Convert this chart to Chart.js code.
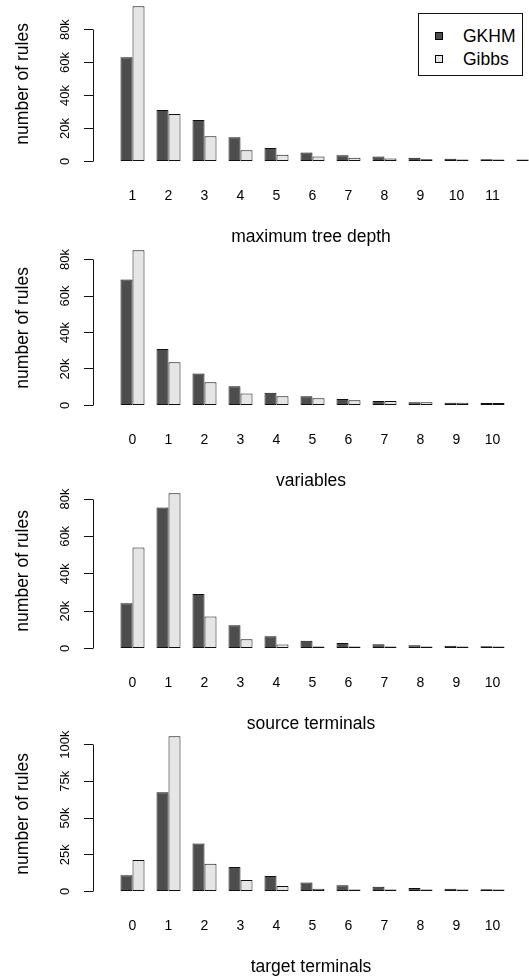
<!DOCTYPE html>
<html>
<head>
<meta charset="utf-8">
<script src="https://cdn.jsdelivr.net/npm/chart.js@4.4.1/dist/chart.umd.min.js"></script>
<style>
  html, body { margin: 0; padding: 0; background: #fff; }
  body { width: 529px; height: 976px; overflow: hidden; position: relative; }
  canvas.panel { position: absolute; left: 0; }
  #legend { position: absolute; left: 418px; top: 13px; width: 105px; height: 63px;
            border: 1px solid #111; box-sizing: border-box; background: #fff; z-index: 5;
            font-family: 'Liberation Sans', Arial, sans-serif; font-size: 17.5px; color: #000; }
  #legend .sw { position: absolute; left: 16px; width: 8px; height: 8px; border: 1px solid #000; box-sizing: border-box; }
  #legend .tx { position: absolute; left: 44px; height: 20px; line-height: 20px; white-space: nowrap; }
</style>
</head>
<body>
<canvas id="p1" class="panel" width="529" height="248" style="top:0px"></canvas>
<canvas id="p2" class="panel" width="529" height="248" style="top:244px"></canvas>
<canvas id="p3" class="panel" width="529" height="248" style="top:487px"></canvas>
<canvas id="p4" class="panel" width="529" height="248" style="top:730px"></canvas>
<div id="legend"></div>
<script>
// ---------------- data ----------------
const seriesNames = ['GKHM', 'Gibbs'];
const seriesColors = ['#4d4d4d', '#e5e5e5'];

const depthCats   = [1, 2, 3, 4, 5, 6, 7, 8, 9, 10, 11, 12];
const depthXTicks = [1, 2, 3, 4, 5, 6, 7, 8, 9, 10, 11];
const depthGKHM   = [63200, 31200, 25200, 14700, 8200, 5500, 3800, 3000, 2200, 1600, 1400, 1000];
const depthGibbs  = [94200, 28800, 15300, 6800, 4100, 3000, 2200, 1800, 1400, 1200, 1000, 700];
const depthYTicks = [0, 20000, 40000, 60000, 80000];

const varCats   = [0, 1, 2, 3, 4, 5, 6, 7, 8, 9, 10];
const varXTicks = [0, 1, 2, 3, 4, 5, 6, 7, 8, 9, 10];
const varGKHM   = [69000, 31000, 17600, 10600, 7000, 5100, 3500, 2400, 1800, 1500, 1300];
const varGibbs  = [85100, 23700, 12700, 6600, 5100, 4000, 2900, 2400, 1800, 1500, 1300];
const varYTicks = [0, 20000, 40000, 60000, 80000];

const srcCats   = [0, 1, 2, 3, 4, 5, 6, 7, 8, 9, 10];
const srcXTicks = [0, 1, 2, 3, 4, 5, 6, 7, 8, 9, 10];
const srcGKHM   = [24200, 75400, 29200, 12500, 6600, 4100, 2900, 2300, 1800, 1400, 1200];
const srcGibbs  = [54000, 83100, 17100, 5000, 2100, 1100, 500, 350, 200, 150, 100];
const srcYTicks = [0, 20000, 40000, 60000, 80000];

const tgtCats   = [0, 1, 2, 3, 4, 5, 6, 7, 8, 9, 10];
const tgtXTicks = [0, 1, 2, 3, 4, 5, 6, 7, 8, 9, 10];
const tgtGKHM   = [11100, 67600, 32600, 16700, 10600, 6100, 4300, 3200, 2300, 1800, 1600];
const tgtGibbs  = [21500, 105700, 18800, 7900, 3800, 1800, 1100, 700, 500, 300, 250];
const tgtYTicks = [0, 25000, 50000, 75000, 100000];

const yTitle = 'number of rules';

// ---------------- layout ----------------
const FONT = "'Liberation Sans', Arial, Helvetica, sans-serif";
const AXIS_X = 93;          // y axis position (px)
const PITCH = 36;           // px per category
const FIRST_OFFSET = 39.5;  // px from y axis to first group centre
const CANVAS_W = 529;
const XAXIS_H = 80.3;
const TICK_LEN = 9;
const YLABEL_CENTER = 65.5;
const YTICK_FONT = 13;

function fmtK(v) { return v === 0 ? '0' : (v / 1000) + 'k'; }

const measureCtx = document.createElement('canvas').getContext('2d');
function widest(labels, size) {
  measureCtx.font = `${size}px ${FONT}`;
  return Math.max(...labels.map(l => measureCtx.measureText(l).width));
}

const yAxisLine = {
  id: 'yAxisLine',
  afterDraw(chart) {
    const s = chart.scales.y, ctx = chart.ctx;
    const t = s.ticks;
    const y0 = Math.round(s.getPixelForValue(t[0].value) - 0.5) + 0.5;
    const y1 = Math.round(s.getPixelForValue(t[t.length - 1].value) - 0.5) + 0.5;
    const x = Math.round(s.right - 0.5) + 0.5;
    ctx.save();
    ctx.strokeStyle = '#111';
    ctx.lineWidth = 1;
    ctx.beginPath();
    ctx.moveTo(x, y0);
    ctx.lineTo(x, y1);
    ctx.stroke();
    ctx.restore();
  }
};

function makePanel(id, cats, gk, gb, xTicks, yTicks, xTitle) {
  const hi = Math.max(...gk, ...gb);
  const xMin = cats[0] - FIRST_OFFSET / PITCH;
  const xMax = xMin + (CANVAS_W - AXIS_X) / PITCH;
  const w = widest(yTicks.map(fmtK), YTICK_FONT);
  const yPad = AXIS_X - TICK_LEN - YLABEL_CENTER - w / 2;
  const series = [gk, gb];
  new Chart(document.getElementById(id), {
    type: 'bar',
    data: {
      datasets: series.map((vals, k) => ({
        label: seriesNames[k],
        data: cats.map((c, i) => ({ x: c, y: vals[i] })),
        backgroundColor: seriesColors[k],
        borderColor: '#111',
        borderWidth: 1,
        borderSkipped: false,
        minBarLength: 2,
        categoryPercentage: 2 / 3,
        barPercentage: 1
      }))
    },
    options: {
      responsive: false,
      animation: false,
      devicePixelRatio: 1,
      layout: { padding: 0 },
      plugins: { legend: { display: false }, tooltip: { enabled: false } },
      scales: {
        x: {
          type: 'linear',
          offset: false,
          min: xMin,
          max: xMax,
          afterBuildTicks: s => { s.ticks = xTicks.map(v => ({ value: v })); },
          afterFit: s => { s.height = XAXIS_H; s.paddingLeft = 0; s.paddingRight = 0; },
          grid: { display: false, drawTicks: false },
          border: { display: false },
          ticks: { autoSkip: false, maxRotation: 0, padding: 20.5, color: '#000',
                   font: { family: FONT, size: 14 } },
          title: { display: true, text: xTitle, color: '#000',
                   font: { family: FONT, size: 17.5 }, padding: { top: 0, bottom: 0.75 } }
        },
        y: {
          type: 'linear',
          min: -0.04 * hi,
          max: 1.04 * hi,
          afterBuildTicks: s => { s.ticks = yTicks.map(v => ({ value: v })); },
          afterFit: s => { s.width = AXIS_X; s.paddingTop = 0; s.paddingBottom = 0; },
          grid: { drawOnChartArea: false, drawTicks: true, tickLength: TICK_LEN, color: '#111', lineWidth: 1 },
          border: { display: false },
          ticks: { autoSkip: false, minRotation: 90, maxRotation: 90, crossAlign: 'center',
                   padding: yPad, color: '#000', font: { family: FONT, size: YTICK_FONT },
                   callback: v => fmtK(v) },
          title: { display: true, text: yTitle, color: '#000',
                   font: { family: FONT, size: 17.5 }, padding: { top: 12.5, bottom: 0 } }
        }
      }
    },
    plugins: [yAxisLine]
  });
}

makePanel('p1', depthCats, depthGKHM, depthGibbs, depthXTicks, depthYTicks, 'maximum tree depth');
makePanel('p2', varCats, varGKHM, varGibbs, varXTicks, varYTicks, 'variables');
makePanel('p3', srcCats, srcGKHM, srcGibbs, srcXTicks, srcYTicks, 'source terminals');
makePanel('p4', tgtCats, tgtGKHM, tgtGibbs, tgtXTicks, tgtYTicks, 'target terminals');

// legend
const lg = document.getElementById('legend');
const rowCenters = [22, 44.5];
seriesNames.forEach((n, k) => {
  const sw = document.createElement('div');
  sw.className = 'sw';
  sw.style.top = (rowCenters[k] - 4) + 'px';
  sw.style.background = seriesColors[k];
  lg.appendChild(sw);
  const tx = document.createElement('div');
  tx.className = 'tx';
  tx.style.top = (rowCenters[k] - 10) + 'px';
  tx.textContent = n;
  lg.appendChild(tx);
});
</script>
</body>
</html>
